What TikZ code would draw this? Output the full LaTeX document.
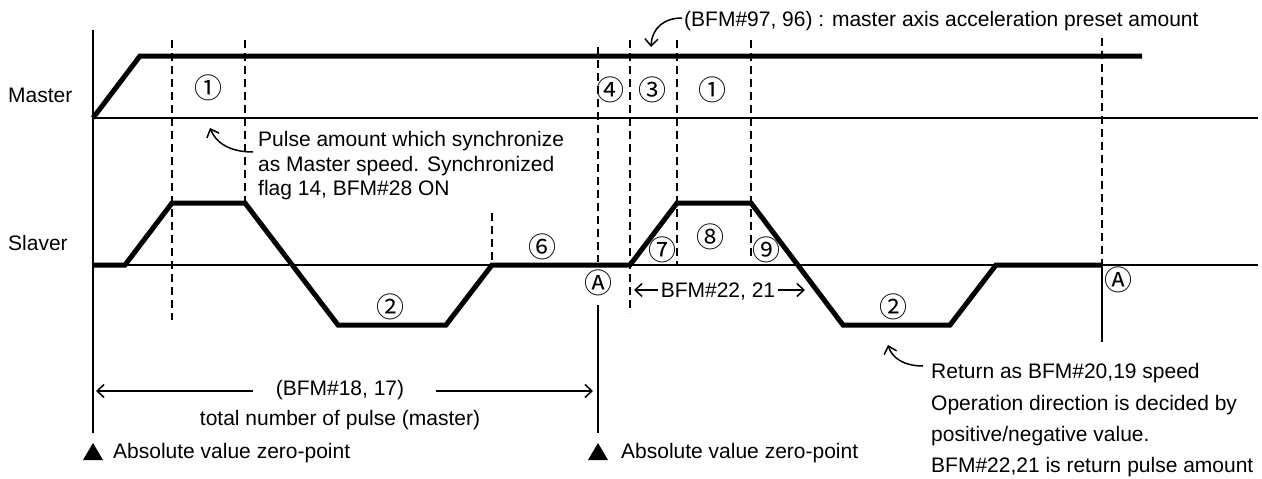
\documentclass[tikz,border=0pt]{standalone}
\usepackage{fontspec}
\setmainfont{Liberation Sans}
\newfontfamily\circfont{Noto Sans CJK JP}
\usetikzlibrary{arrows.meta}
\begin{document}
\begin{tikzpicture}[x=1pt,y=-1pt,
  thinline/.style={line width=1.6pt},
  wave/.style={line width=5pt, line join=miter},
  guide/.style={line width=1.8pt, dash pattern=on 8pt off 5pt},
  lbl/.style={inner sep=0pt, anchor=base west, font=\fontsize{21}{25}\selectfont},
  clbl/.style={inner sep=0pt, anchor=base, font=\fontsize{21}{25}\selectfont},
  circ/.style={inner sep=0pt, font=\circfont\fontsize{28}{28}\selectfont},
  barb/.style={-{Straight Barb[length=7pt,width=13pt]}, line width=1.5pt},
  zero/.style={fill=black, draw=none},
]
\useasboundingbox (0,0) rectangle (1262,479);

% axes
\coordinate (axT) at (93,30);
\coordinate (axB) at (93,433);
\draw[thinline] (axT) -- (axB);
\coordinate (mL) at (93,118); \coordinate (mR) at (1258,118);
\coordinate (sL) at (93,265); \coordinate (sR) at (1258,265);
\draw[thinline] (mL) -- (mR);
\draw[thinline] (sL) -- (sR);

% master waveform
\coordinate (m1) at (140,56); \coordinate (m2) at (1142,56);
\draw[wave] (mL) -- (m1) -- (m2);

% slaver waveform
\coordinate (s1) at (125,265); \coordinate (s2) at (172,203);
\coordinate (s3) at (245,203); \coordinate (s4) at (338,325);
\coordinate (s5) at (446,325); \coordinate (s6) at (492,265);
\coordinate (s7) at (630,265); \coordinate (s8) at (677,203);
\coordinate (s9) at (751,203); \coordinate (s10) at (843,325);
\coordinate (s11) at (950,325); \coordinate (s12) at (996,265);
\coordinate (s13) at (1102,265);
\draw[wave] (sL) -- (s1) -- (s2) -- (s3) -- (s4) -- (s5) -- (s6) -- (s7)
  -- (s8) -- (s9) -- (s10) -- (s11) -- (s12) -- (s13);

% guide lines
\draw[guide] (172,40) -- (172,320);
\draw[guide] (245,40) -- (s3);
\draw[guide] (492,213) -- (s6);
\draw[guide] (598,47) -- (598,262);
\draw[thinline] (598,305) -- (598,433);
\draw[guide] (630,40) -- (630,313);
\draw[guide] (677,40) -- (677,265);
\draw[guide] (751,40) -- (751,258);
\draw[guide] (1102,38) -- (s13);
\draw[thinline] (s13) -- (1102,342);

% circled numbers
\node[circ] (c1a) at (208,88) {①};
\node[circ] (c4) at (610,90) {④};
\node[circ] (c3) at (652,90) {③};
\node[circ] (c1b) at (712,90) {①};
\node[circ] (c6) at (542,247) {⑥};
\node[circ] (cAa) at (598,283) {Ⓐ};
\node[circ] (c2a) at (390,307) {②};
\node[circ] (c7) at (662,250) {⑦};
\node[circ] (c8) at (710,237) {⑧};
\node[circ] (c9) at (766,250) {⑨};
\node[circ] (c2b) at (893,307) {②};
\node[circ] (cAb) at (1118,280) {Ⓐ};

% labels
\node[lbl] (master) at (8,102) {Master};
\node[lbl] (slaver) at (8,250) {Slaver};
\node[lbl] (p1) at (258,146) {Pulse amount which synchronize};
\node[lbl] (p2) at (258,171) {as Master speed. Synchronized};
\node[lbl] (p3) at (258,195) {flag 14, BFM\#28 ON};
\node[lbl] (top) at (684,26) {(BFM\#97, 96) : master axis acceleration preset amount};
\node[clbl] (b22) at (718,297) {BFM\#22, 21};
\node[clbl] (b18) at (340,395) {(BFM\#18, 17)};
\node[clbl] (tot) at (340,425) {total number of pulse (master)};
\node[lbl] (r1) at (931,378) {Return as BFM\#20,19 speed};
\node[lbl] (r2) at (931,410) {Operation direction is decided by};
\node[lbl] (r3) at (931,441) {positive/negative value.};
\node[lbl] (r4) at (931,472) {BFM\#22,21 is return pulse amount};
\node[lbl] (z1) at (113,458) {Absolute value zero-point};
\node[lbl] (z2) at (621,458) {Absolute value zero-point};

% zero-point triangles
\fill[zero] (83,460) -- (103,460) -- (93,443) -- cycle;
\fill[zero] (588,460) -- (608,460) -- (598,443) -- cycle;

% dimension arrows
\coordinate (a18L) at (96,391); \coordinate (a18R) at (593,391);
\draw[barb] (253,391) -- (a18L);
\draw[barb] (436,391) -- (a18R);
\coordinate (a22L) at (634,290); \coordinate (a22R) at (805,290);
\draw[barb] (b22.west |- a22L) ++(-3,0) -- (a22L);
\draw[barb] (b22.east |- a22R) ++(3,0) -- (a22R);

% curved pointer arrows
\coordinate (pS) at (253,152); \coordinate (pT) at (210,128);
\draw[barb] (pS) .. controls (230,152) and (216,143) .. (pT);
\coordinate (tS) at (682,18); \coordinate (tT) at (651,47);
\draw[barb] (tS) .. controls (664,18) and (652,28) .. (tT);
\coordinate (rS) at (923,366); \coordinate (rT) at (888,345);
\draw[barb] (rS) .. controls (904,366) and (892,358) .. (rT);
\end{tikzpicture}
\end{document}
